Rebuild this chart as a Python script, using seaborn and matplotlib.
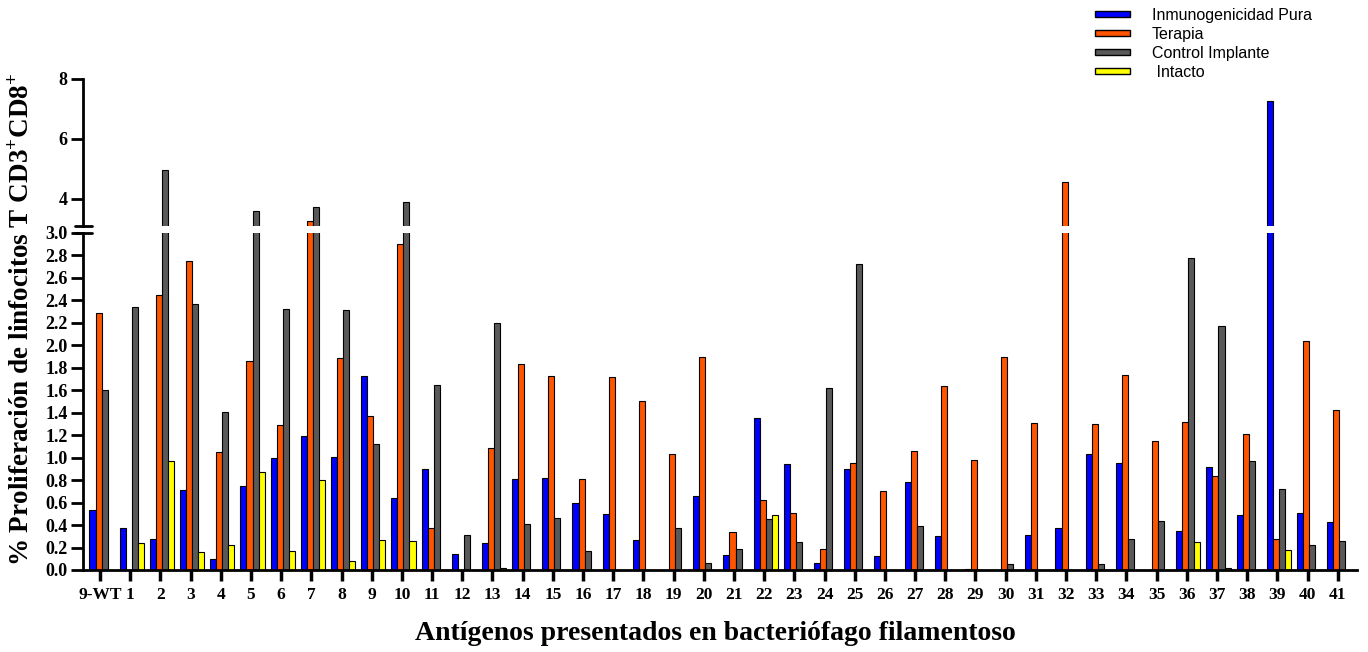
import numpy as np
import pandas as pd
import matplotlib
matplotlib.use("Agg")
import matplotlib.pyplot as plt
from matplotlib.patches import Patch
from matplotlib.lines import Line2D
import seaborn as sns

antigens = ["9-WT", "1", "2", "3", "4", "5", "6", "7", "8", "9", "10",
            "11", "12", "13", "14", "15", "16", "17", "18", "19", "20",
            "21", "22", "23", "24", "25", "26", "27", "28", "29", "30",
            "31", "32", "33", "34", "35", "36", "37", "38", "39", "40", "41"]

pura = [0.53, 0.37, 0.28, 0.71, 0.10, 0.75, 1.00, 1.19, 1.01, 1.73, 0.64,
        0.90, 0.14, 0.24, 0.81, 0.82, 0.60, 0.50, 0.27, 0.00, 0.66,
        0.13, 1.35, 0.94, 0.06, 0.90, 0.12, 0.78, 0.30, 0.01, 0.00,
        0.31, 0.37, 1.03, 0.95, 0.00, 0.35, 0.92, 0.49, 7.27, 0.51, 0.43]

terapia = [2.29, 0.00, 2.45, 2.75, 1.05, 1.86, 1.29, 3.28, 1.89, 1.37, 2.90,
           0.37, 0.00, 1.09, 1.83, 1.73, 0.81, 1.72, 1.50, 1.03, 1.90,
           0.34, 0.62, 0.51, 0.19, 0.95, 0.70, 1.06, 1.64, 0.98, 1.90,
           1.31, 4.58, 1.30, 1.74, 1.15, 1.32, 0.84, 1.21, 0.28, 2.04, 1.42]

control = [1.60, 2.34, 4.95, 2.37, 1.41, 3.60, 2.32, 3.72, 2.31, 1.12, 3.90,
           1.65, 0.31, 2.20, 0.41, 0.46, 0.17, 0.00, 0.00, 0.37, 0.06,
           0.19, 0.45, 0.25, 1.62, 2.72, 0.00, 0.39, 0.00, 0.00, 0.05,
           0.00, 0.00, 0.05, 0.28, 0.44, 2.78, 2.17, 0.97, 0.72, 0.22, 0.26]

intacto = [0.00, 0.24, 0.97, 0.16, 0.22, 0.87, 0.17, 0.80, 0.08, 0.27, 0.26,
           0.00, 0.00, 0.02, 0.00, 0.00, 0.00, 0.00, 0.00, 0.00, 0.00,
           0.00, 0.49, 0.00, 0.00, 0.00, 0.00, 0.00, 0.00, 0.00, 0.00,
           0.00, 0.00, 0.00, 0.00, 0.00, 0.25, 0.02, 0.00, 0.18, 0.00, 0.00]

groups = ["Inmunogenicidad Pura", "Terapia", "Control Implante", " Intacto"]
colors = ["#0000ff", "#ff5500", "#595959", "#ffff00"]

df = pd.DataFrame({
    "antigen": antigens * 4,
    "group": [g for g in groups for _ in antigens],
    "value": pura + terapia + control + intacto,
})

sns.set_style("ticks")
plt.rcParams["font.family"] = ["Liberation Serif", "DejaVu Serif"]
plt.rcParams["mathtext.fontset"] = "custom"
plt.rcParams["mathtext.rm"] = "Liberation Serif"
plt.rcParams["mathtext.bf"] = "Liberation Serif:bold"
for k in ["text.color", "axes.edgecolor", "xtick.color", "ytick.color",
          "axes.labelcolor"]:
    plt.rcParams[k] = "black"

fig = plt.figure(figsize=(13.68, 6.52), dpi=100)
ax_low = fig.add_axes([0.0605, 0.1258, 0.9315, 0.5169])
ax_up = fig.add_axes([0.0605, 0.6534, 0.9315, 0.2255])

for ax in (ax_low, ax_up):
    sns.barplot(data=df, x="antigen", y="value", hue="group", order=antigens,
                hue_order=groups, palette=colors, saturation=1,
                edgecolor="black", linewidth=0.8, width=0.8, errorbar=None,
                legend=False, ax=ax)
    ax.set_xlim(-0.623, 41.59)
    ax.set_xlabel("")
    ax.set_ylabel("")
    sns.despine(ax=ax)
    for s in ["left", "bottom"]:
        ax.spines[s].set_linewidth(2)
    ax.tick_params(axis="y", length=9, width=2, pad=2, labelsize=13)

ax_low.set_ylim(0, 3.0)
ax_low.set_yticks(np.arange(0, 3.01, 0.2))
ax_low.set_yticklabels([f"{v:.1f}" for v in np.arange(0, 3.01, 0.2)],
                       fontweight="bold")
ax_low.set_xticks(np.arange(len(antigens)) - 0.05)
ax_low.set_xticklabels(antigens, fontweight="bold", fontsize=12.5)
ax_low.tick_params(axis="x", length=8, width=2.5, pad=4)

ax_up.set_ylim(3.1, 8)
ax_up.set_yticks([4, 6, 8])
ax_up.set_yticklabels(["4", "6", "8"], fontweight="bold")
ax_up.spines["bottom"].set_visible(False)
ax_up.tick_params(axis="x", bottom=False, labelbottom=False)

# axis break marks
for yp in (226, 233):
    fig.add_artist(Line2D([75 / 1368, 92 / 1368], [1 - yp / 652, 1 - yp / 652],
                          color="black", lw=2))

fig.text(0.016, 0.51,
         r"% Proliferación de linfocitos T CD3$^{\mathbf{+}}$CD8$^{\mathbf{+}}$",
         rotation=90, ha="center", va="center", fontsize=19.5, fontweight="bold")
fig.text(0.523, 1 - 633 / 652, "Antígenos presentados en bacteriófago filamentoso",
         ha="center", va="center", fontsize=20, fontweight="bold")

handles = [Patch(facecolor=c, edgecolor="black", linewidth=1) for c in colors]
fig.legend(handles, groups, loc="upper left",
           bbox_to_anchor=(1095 / 1368, 1 - 8 / 652), frameon=False,
           prop={"family": "Liberation Sans", "size": 11.5},
           handlelength=2.2, handleheight=0.25, handletextpad=1.35,
           labelspacing=0.25, borderpad=0, borderaxespad=0)

fig.savefig("out.png", dpi=100)
